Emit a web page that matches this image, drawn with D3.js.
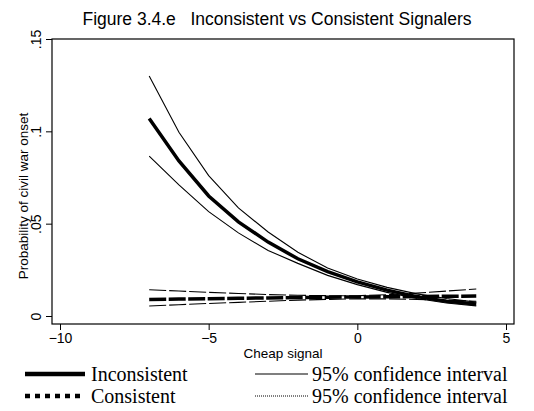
<!DOCTYPE html>
<html><head><meta charset="utf-8">
<script src="https://cdn.jsdelivr.net/npm/d3@7"></script>
<style>body{margin:0;background:#fff}svg{display:block}</style>
</head><body>
<svg id="c" width="534" height="411"></svg>
<script>
const signal = [-7,-6,-5,-4,-3,-2,-1,0,1,2,3,4];
const inconsistent = [0.107,0.084,0.065,0.051,0.040,0.031,0.024,0.0185,0.014,0.0105,0.008,0.0065];
const inconsistentUpper = [0.130,0.0995,0.076,0.0585,0.0455,0.0345,0.026,0.020,0.0155,0.012,0.0095,0.0075];
const inconsistentLower = [0.0866,0.071,0.0565,0.045,0.0355,0.0285,0.022,0.017,0.0128,0.0095,0.007,0.0055];
const consistent = [0.009,0.0092,0.0094,0.0096,0.0098,0.010,0.0102,0.0103,0.0104,0.0105,0.0107,0.0108];
const consistentUpper = [0.0142,0.0135,0.0128,0.0122,0.0116,0.0112,0.0110,0.0110,0.0115,0.0124,0.0135,0.0146];
const consistentLower = [0.0054,0.0061,0.0068,0.0074,0.0080,0.0086,0.0090,0.0093,0.0093,0.0090,0.0085,0.0080];
const xTicks = [-10,-5,0,5];
const yTicks = [0,0.05,0.1,0.15];
const yTickLabels = ["0",".05",".1",".15"];

const svg = d3.select("#c");
const x = d3.scaleLinear().domain([-10,5]).range([60,506]);
const y = d3.scaleLinear().domain([0,0.15]).range([316,39]);
const sans = "'Liberation Sans', Arial, Helvetica, sans-serif";
const serif = "'Liberation Serif', 'Times New Roman', serif";

// frame
svg.append("rect").attr("x",52).attr("y",39).attr("width",514-52).attr("height",324-39)
  .attr("fill","none").attr("stroke","#000").attr("stroke-width",1.2);

// x axis
const xa = svg.append("g").attr("transform","translate(0,324)")
  .call(d3.axisBottom(x).tickValues(xTicks).tickSize(6).tickPadding(3).tickFormat(d3.format("d")));
xa.select(".domain").remove();
xa.selectAll("text").attr("font-family",sans).attr("font-size",14).attr("fill","#000");
xa.selectAll("line").attr("stroke","#000");

// y axis
const ya = svg.append("g").attr("transform","translate(52,0)")
  .call(d3.axisLeft(y).tickValues(yTicks).tickSize(6).tickPadding(0).tickFormat((d,i)=>yTickLabels[i]));
ya.select(".domain").remove();
ya.selectAll("line").attr("stroke","#000");
ya.selectAll("text").attr("font-family",sans).attr("font-size",14).attr("fill","#000")
  .attr("text-anchor","middle").attr("dy",0).attr("x",0)
  .attr("transform","translate(-11,0) rotate(-90)");

// titles
svg.append("text").attr("x",277).attr("y",25).attr("text-anchor","middle")
  .attr("font-family",sans).attr("font-size",17.5).style("white-space","pre")
  .text("Figure 3.4.e   Inconsistent vs Consistent Signalers");
svg.append("text").attr("x",283).attr("y",358).attr("text-anchor","middle")
  .attr("font-family",sans).attr("font-size",13.5).text("Cheap signal");
svg.append("text").attr("transform","translate(28,196) rotate(-90)").attr("text-anchor","middle")
  .attr("font-family",sans).attr("font-size",13.5).text("Probability of civil war onset");

const line = d3.line().x((d,i)=>x(signal[i])).y(d=>y(d));
function draw(arr, w, dash){
  const p = svg.append("path").datum(arr).attr("d",line).attr("fill","none")
    .attr("stroke","#000").attr("stroke-width",w);
  if(dash) p.attr("stroke-dasharray",dash);
}
draw(inconsistentUpper,1.1);
draw(inconsistentLower,1.1);
draw(consistentUpper,1.1,"17,3");
draw(consistentLower,1.1,"17,3");
draw(consistent,3.5,"17,2.5");
draw(inconsistent,3.5);

// legend
const lg = svg.append("g");
lg.append("line").attr("x1",25).attr("x2",85).attr("y1",374).attr("y2",374).attr("stroke","#000").attr("stroke-width",4.5);
lg.append("line").attr("x1",25).attr("x2",85).attr("y1",396).attr("y2",396).attr("stroke","#000").attr("stroke-width",4.5).attr("stroke-dasharray","5,5");
lg.append("line").attr("x1",255).attr("x2",308).attr("y1",374).attr("y2",374).attr("stroke","#000").attr("stroke-width",1.1);
lg.append("line").attr("x1",255).attr("x2",308).attr("y1",396).attr("y2",396).attr("stroke","#000").attr("stroke-width",1).attr("stroke-dasharray","1,1");
const lt = [["Inconsistent",91,381],["Consistent",91,403],["95% confidence interval",312,381],["95% confidence interval",312,403]];
lt.forEach(t=>lg.append("text").attr("x",t[1]).attr("y",t[2]).attr("font-family",serif).attr("font-size",20).text(t[0]));
</script>
</body></html>
